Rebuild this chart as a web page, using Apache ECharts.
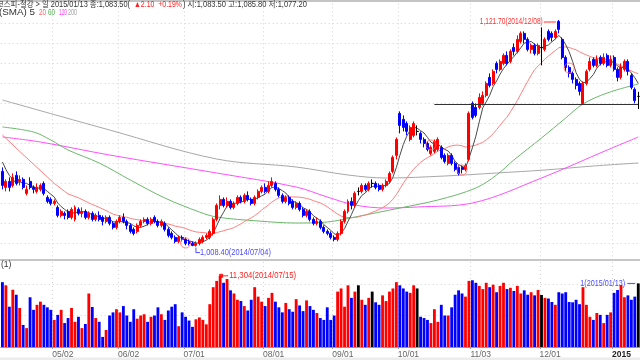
<!DOCTYPE html>
<html><head><meta charset="utf-8">
<script src="https://cdn.jsdelivr.net/npm/echarts@6/dist/echarts.min.js"></script>
<style>html,body{margin:0;padding:0;background:#fff;overflow:hidden}#c{width:640px;height:360px}</style>
</head><body><div id="c"></div>
<script>
// ---- categories (trading days) ----
const monthDays = [
  ['2014/04', [10,11,14,15,16,17,18,21,22,23,24,25,28,29,30]],
  ['2014/05', [2,7,8,9,12,13,14,15,16,19,20,21,22,23,26,27,28,29,30]],
  ['2014/06', [2,3,5,9,10,11,12,13,16,17,18,19,20,23,24,25,26,27,30]],
  ['2014/07', [1,2,3,4,7,8,9,10,11,14,15,16,17,18,21,22,23,24,25,28,29,30,31]],
  ['2014/08', [1,4,5,6,7,8,11,12,13,14,18,19,20,21,22,25,26,27,28,29]],
  ['2014/09', [1,2,3,4,5,11,12,15,16,17,18,19,22,23,24,25,26,29,30]],
  ['2014/10', [1,2,6,7,8,10,13,14,15,16,17,20,21,22,23,24,27,28,29,30,31]],
  ['2014/11', [3,4,5,6,7,10,11,12,13,14,17,18,19,20,21,24,25,26,27,28]],
  ['2014/12', [1,2,3,4,5,8,9,10,11,12,15,16,17,18,19,22,23,24,26,29,30]],
  ['2015/01', [2,5,6,7,8,9,12,13]]
];
const dates = [];
monthDays.forEach(([m, ds]) => ds.forEach(d => dates.push(m + '/' + String(d).padStart(2, '0'))));
const tickDates = ['2014/05/02','2014/06/02','2014/07/01','2014/08/01','2014/09/01','2014/10/01','2014/11/03','2014/12/01','2015/01/02'];
const tickLabels = ['05/02','06/02','07/01','08/01','09/01','10/01','11/03','12/01','2015'];

// ---- daily candles [open, close, low, high] ----
const ohlc = [
[1046,1039,1037,1048],[1038,1041,1036,1042],[1041,1038,1036,1043],[1039,1043,1038,1045],[1044,1040,1039,1046],
[1041,1042,1039,1044],[1042,1038,1037,1043],[1035,1037,1034,1039],[1041,1038,1037,1043],[1038,1037,1035,1039],
[1036,1038,1035,1040],[1037,1039,1036,1040],[1040,1035,1034,1041],[1033,1031,1030,1034],[1032,1030,1029,1033],
[1030,1031,1029,1032],[1028,1024,1023,1029],[1024,1026,1023,1027],[1025,1024,1022,1026],[1026,1023,1022,1027],
[1023,1027,1022,1028],[1022,1028,1021,1029],[1027,1025,1024,1028],[1025,1026,1023,1028],[1026,1023,1022,1027],
[1023,1025,1022,1026],[1025,1022,1021,1026],[1022,1024,1021,1025],[1024,1022,1021,1026],[1023,1021,1019,1024],
[1021,1023,1020,1024],[1023,1020,1019,1024],[1020,1018,1017,1021],[1018,1021,1017,1022],[1021,1023,1020,1024],
[1023,1021,1020,1025],[1021,1019,1017,1022],[1019,1016,1015,1020],[1017,1015,1014,1018],[1016,1019,1015,1020],
[1019,1021,1018,1022],[1021,1022,1020,1023],[1022,1020,1019,1023],[1020,1022,1019,1023],[1023,1021,1020,1024],
[1021,1019,1018,1022],[1019,1021,1018,1022],[1020,1017,1016,1021],[1017,1014,1013,1018],[1015,1013,1012,1016],
[1013,1011,1010,1014],[1011,1013,1010,1014],[1013,1012,1011,1014],[1012,1010,1009,1013],[1011,1010,1009,1012],
[1010,1009,1008.6,1011],[1009,1010,1008.4,1011],[1010,1012,1009,1013],[1011,1013,1010,1014],[1013,1014,1012,1015],
[1013,1016,1012,1017],[1015,1022,1014,1023],[1022,1029,1021,1030],[1029,1032,1027,1034],[1032,1029,1028,1033],
[1029,1031,1028,1033],[1031,1028,1027,1032],[1028,1030,1027,1031],[1030,1033,1029,1034],[1033,1031,1030,1034],
[1031,1034,1030,1035],[1034,1032,1031,1036],[1032,1030,1029,1033],[1030,1033,1029,1034],[1033,1036,1032,1037],
[1036,1038,1035,1039],[1038,1036,1035,1040],[1036,1039,1035,1041],[1039,1041,1038,1043],[1040,1037,1036,1041],
[1037,1034,1033,1038],[1034,1031,1030,1035],[1031,1033,1030,1034],[1033,1030,1029,1034],[1031,1028,1027,1032],
[1028,1030,1027,1031],[1030,1027,1026,1031],[1027,1024,1023,1028],[1024,1026,1023,1027],[1026,1022,1021,1027],
[1022,1020,1019,1023],[1020,1021,1019,1023],[1021,1018,1017,1022],[1018,1016,1015,1019],[1016,1015,1014,1017],
[1015,1013,1012,1016],[1013,1012,1011,1014],[1012,1015,1011,1016],[1015,1021,1014,1022],[1021,1026,1020,1027],
[1026,1031,1025,1032],[1031,1029,1027,1033],[1029,1035,1028,1036],[1036,1036,1034,1038],[1036,1039,1035,1040],
[1039,1037,1036,1040],[1037,1040,1036,1041],[1040,1040,1038,1042],[1040,1038,1037,1041],[1039,1037,1036,1040],
[1037,1039,1036,1040],[1039,1041,1038,1042],[1041,1045,1040,1046],[1046,1053,1045,1054],[1054,1062,1052,1063],
[1075,1069,1065,1076],[1072,1068,1066,1074],[1070,1066,1064,1071],[1062,1068,1061,1069],[1064,1070,1063,1071],
[1066,1066,1064,1069],[1065,1062,1060,1066],[1062,1060,1058,1063],[1060,1057,1056,1061],[1055,1058,1054,1059],
[1056,1061,1055,1062],[1057,1062,1056,1063],[1058,1053,1052,1059],[1054,1051,1050,1055],[1050,1054,1049,1055],
[1054,1050,1049,1055],[1050,1047,1046,1051],[1048,1045,1044,1049],[1048,1047,1045,1049],[1047,1049,1046,1050],
[1052,1075,1051,1076],[1080,1073,1072,1081],[1078,1074,1073,1080],[1078,1083,1077,1085],[1080,1084,1079,1086],
[1084,1090,1083,1091],[1093,1089,1088,1095],[1090,1096,1089,1097],[1100,1097,1095,1101],[1097,1101,1096,1102],
[1100,1104,1099,1105],[1104,1100,1099,1106],[1101,1106,1100,1107],[1108,1106,1104,1110],[1106,1112,1105,1114],
[1111,1115,1110,1116],[1115,1112,1110,1116],[1112,1107,1106,1113],[1107,1109,1105,1110],[1109,1105,1104,1110],
[1105,1109,1104,1110],[1108,1108,1099,1118],[1107,1112,1106,1113],[1116,1112,1111,1117],[1115,1113,1111,1116],
[1113,1116,1112,1117],[1121,1117,1115,1121.7],[1112,1103,1102,1113],[1103,1098,1096,1104],[1098,1095,1093,1099],
[1095,1092,1090,1096],[1092,1089,1087,1093],[1090,1086,1084,1091],[1080,1090,1079.7,1091],[1090,1096,1089,1097],
[1097,1101,1096,1103],[1102,1099,1098,1103],[1099,1102,1098,1104],[1103,1100,1099,1104],[1100,1103,1099,1105],
[1104,1099,1098,1105],[1099,1102,1098,1104],[1103,1097,1096,1104],[1097,1093,1091,1098],[1093,1098,1092,1100],
[1097,1101,1096,1102],[1101,1096,1094,1102],[1094,1088,1087,1095],[1087,1081.4,1080,1088],[1083.5,1083.5,1077.2,1085.8]
];

// ---- daily volume ----
const volume = [
10300,9800,6400,9100,8300,6200,3500,3000,7900,5900,6700,7200,6700,6300,5900,
4300,5100,5900,3800,4600,6200,4000,4800,3000,3650,8500,6350,4600,4000,1600,2700,5000,5500,6000,
5500,6500,5000,4000,6000,4500,5000,5200,4000,4800,5000,6300,5200,4300,5800,6400,6800,3300,5500,
4800,4200,3200,4400,4700,4300,3600,6800,9500,10500,
11304,
10200,10800,9000,8500,7500,7300,6500,5800,7500,9500,8000,7200,
6500,7800,8600,7200,6300,5500,7000,6000,5600,7600,6600,5700,7400,6500,5900,5400,4600,4300,6300,4300,
5000,8800,9300,6400,9800,7800,8800,9800,7500,6700,7800,8800,7100,6700,8200,7300,8800,9300,10300,
9800,9300,8800,8600,9800,9300,4800,4600,4300,3800,6000,4000,6700,5000,5000,6300,8300,9000,8500,8000,10500,
10600,10200,9700,9200,10200,9500,9900,8700,9700,10200,9200,9400,8900,9700,8500,9000,8300,8700,8200,9050,
8260,7800,7700,7150,6700,8700,8500,8700,7150,7100,7500,6800,9500,6700,4800,4300,5400,5100,3800,5100,5500,8600,9050,9850,7900,8200,7500,8000,10100
];

const ma5Head = [1050.7, 1047, 1044, 1042];
const ma20Head = [[0,1064.2],[5,1056],[10,1048],[15,1040],[18,1036]];
const ma60Pts = [[0,1068.2],[9,1065.7],[14,1061.7],[19,1056.7],[28,1050.2],[37,1041.7],[47,1032.7],[57,1025.7],[62,1023.2],[74,1021.2],[85,1020.2],[94,1020.7],[102,1023.2],[115,1027.7],[126,1031.7],[137,1037.7],[143,1044.2],[148,1051.7],[156,1062.7],[163,1072.7],[168,1079.7],[175,1085.2],[184,1089.7]];
const ma120Pts = [[0,1063.2],[11,1060.7],[31,1054.2],[62,1045.2],[85,1038.2],[94,1033.2],[102,1029.2],[111,1027.7],[120,1028.2],[136,1030.2],[156,1042.7],[175,1056.7],[184,1063.2]];
const ma200Pts = [[0,1081.7],[31,1066.7],[62,1052.2],[85,1048.2],[100,1044.2],[111,1042.7],[128,1043.7],[143,1045.2],[157,1046.7],[171,1048.7],[184,1050.2]];

// cross markers and support line
const crossIdx = [53, 124, 133, 164];
const crossVal = [1010.2, 1059.2, 1046.7, 1097.7];
const supportFrom = 125, supportLevel = 1079.7;
const hiIdx = 161, hiVal = 1121.7, loIdx = 56, loVal = 1008.4, vMaxIdx = 63, vLastIdx = 184;

// header texts
const titleMain = '코스피-철강 > 일 2015/01/13 종:1,083.50(';
const titleChg = '▲2.10  +0.19%';
const titleTail = ') 시:1,083.50 고:1,085.80 저:1,077.20';
const maNames = ['(SMA) 5', '20', '60', '120', '200'];

const closes = ohlc.map(r => r[1]);
function sma(n, i) { let s = 0; for (let k = i - n + 1; k <= i; k++) s += closes[k]; return +(s / n).toFixed(2); }
const ma5 = dates.map((d, i) => [i, i < 4 ? ma5Head[i] : sma(5, i)]);
const ma20 = ma20Head.concat(dates.slice(19).map((d, j) => [j + 19, sma(20, j + 19)]));

const RED = '#ff0000', BLUE = '#0000ff';
const tickSet = new Set(tickDates.map(d => dates.indexOf(d)));
const FONT = "'Liberation Sans','Noto Sans CJK KR',sans-serif";
const GRID = '#d2d2d2';

const chart = echarts.init(document.getElementById('c'));
const candleData = ohlc.map(r => r[0] === r[1] ? { value: r, itemStyle: { color: '#000', borderColor: '#000', color0: '#000', borderColor0: '#000' } } : r);
const volData = volume.map((v, i) => ({ value: v, itemStyle: { color: ohlc[i][1] > ohlc[i][0] ? RED : (ohlc[i][1] < ohlc[i][0] ? BLUE : '#000') } }));

const mainGridLines = [];
for (let k = 0; k < 14; k++) mainGridLines.push(k === 0 || k === 13 ? 'rgba(0,0,0,0)' : GRID);

function line(name, data, color, smooth, z) {
  return { name, type: 'line', xAxisIndex: 0, yAxisIndex: 0, data, smooth, symbol: 'none', z,
    lineStyle: { color, width: 1 }, silent: true, connectNulls: true };
}

chart.setOption({
  animation: false,
  backgroundColor: '#fff',
  grid: [
    { left: 0.7, right: -6, top: 3.4, height: 260 },
    { left: 0.7, right: -6, top: 262, bottom: 13 }
  ],
  xAxis: [
    { type: 'category', gridIndex: 0, data: dates, boundaryGap: true,
      axisLine: { show: false }, axisTick: { show: false }, axisLabel: { show: false },
      splitLine: { show: true, interval: (i) => tickSet.has(i), lineStyle: { color: GRID, type: [1, 3] } } },
    { type: 'category', gridIndex: 1, data: dates, boundaryGap: true,
      axisLine: { show: true, lineStyle: { color: '#9a9a9a' } },
      axisTick: { show: true, interval: (i) => tickSet.has(i), length: 2, lineStyle: { color: '#9a9a9a' } },
      axisLabel: { show: true, interval: (i) => tickSet.has(i), align: 'left', margin: 3, fontSize: 8.5, fontFamily: FONT, color: '#666',
        padding: [0, 0, 0, -2],
        formatter: (v) => { const t = tickLabels[tickDates.indexOf(v)] || ''; return t === '2015' ? '{b|2015}' : t; },
        rich: { b: { fontWeight: 'bold', color: '#222', fontSize: 8.5, fontFamily: FONT } } },
      splitLine: { show: true, interval: (i) => tickSet.has(i), lineStyle: { color: GRID, type: [1, 3] } } }
  ],
  yAxis: [
    { type: 'value', gridIndex: 0, min: 1000, max: 1130, interval: 10, position: 'right',
      axisLine: { show: false }, axisTick: { show: false }, axisLabel: { show: false },
      splitLine: { show: true, lineStyle: { color: mainGridLines, type: [1, 3] } } },
    { type: 'value', gridIndex: 1, min: 0, max: 13500, interval: 5000, position: 'right',
      axisLine: { show: false }, axisTick: { show: false }, axisLabel: { show: false },
      splitLine: { show: true, lineStyle: { color: ['rgba(0,0,0,0)', GRID, GRID, 'rgba(0,0,0,0)'], type: [1, 3] } } }
  ],
  series: [
    line('MA200', ma200Pts, '#a8a8a8', 0.35, 2),
    line('MA120', ma120Pts, '#ff50ff', 0.35, 2),
    line('MA60', ma60Pts, '#6cb86c', 0.35, 2),
    line('MA20', ma20, '#ff8080', false, 2),
    line('MA5', ma5, '#4a4a4a', false, 2),
    { name: 'price', type: 'candlestick', xAxisIndex: 0, yAxisIndex: 0, data: candleData, barWidth: '72%', z: 3,
      itemStyle: { color: RED, color0: BLUE, borderColor: RED, borderColor0: BLUE, borderWidth: 1 },
      markLine: { silent: true, symbol: 'none', label: { show: false },
        lineStyle: { color: '#333', width: 1, type: 'solid' },
        data: [[{ coord: [dates[supportFrom], supportLevel] }, { coord: [dates[dates.length - 1], supportLevel] }]] } },
    { name: 'cross', type: 'scatter', xAxisIndex: 0, yAxisIndex: 0, symbol: 'circle', symbolSize: 10, z: 4,
      data: crossIdx.map((k, j) => [dates[k], crossVal[j]]),
      itemStyle: { color: 'rgba(255,255,255,0)', borderColor: '#ff6a6a', borderWidth: 1 } },
    { name: 'volume', type: 'bar', xAxisIndex: 1, yAxisIndex: 1, data: volData, barCategoryGap: '18%' }
  ]
});

// ---- text fitted to a target pixel span ----
const mctx = document.createElement('canvas').getContext('2d');
function fitText(text, font, x0, x1, y, fill) {
  mctx.font = font;
  const w = mctx.measureText(text).width || 1;
  return { type: 'text', x: x0, y, scaleX: (x1 - x0) / w, silent: true,
    style: { text, font, fill, verticalAlign: 'middle', align: 'left' } };
}

// ---- annotations placed through the library's coordinate conversion ----
const ph = chart.convertToPixel({ gridIndex: 0 }, [dates[hiIdx], hiVal]);
const pl = chart.convertToPixel({ gridIndex: 0 }, [dates[loIdx], loVal]);
const pv = chart.convertToPixel({ gridIndex: 1 }, [dates[vMaxIdx], volume[vMaxIdx]]);
const pz = chart.convertToPixel({ gridIndex: 1 }, [dates[vLastIdx], volume[vLastIdx]]);
const annFont = '8.5px ' + FONT;
const LB = '#4b4bff';
const TF = '8.5px ' + FONT;

chart.setOption({
  graphic: [
    { type: 'rect', shape: { x: 0, y: 0, width: 640, height: 2 }, style: { fill: '#c4c4c4' }, silent: true },
    { type: 'rect', shape: { x: 0, y: 259, width: 640, height: 2 }, style: { fill: '#c6c6c6' }, silent: true },
    { type: 'rect', shape: { x: 0, y: 357.5, width: 640, height: 3 }, style: { fill: '#ececec' }, silent: true },
    fitText(titleMain, TF, -3, 130, 5, '#333'),
    fitText(titleChg, TF, 134, 182, 5, '#ff2020'),
    fitText(titleTail, TF, 183, 307, 5, '#333'),
    fitText(maNames[0], TF, -1, 35, 13, '#333'),
    fitText(maNames[1], TF, 39, 46, 13, '#ff6060'),
    fitText(maNames[2], TF, 48, 55, 13, '#50b050'),
    fitText(maNames[3], TF, 59, 67, 13, '#ff40ff'),
    fitText(maNames[4], TF, 68, 77, 13, '#a0a0a0'),
    { type: 'text', x: 1, y: 265, silent: true, style: { text: '(1)', fill: '#333', font: TF, verticalAlign: 'middle' } },
    // high
    fitText('1,121.70(2014/12/08)', annFont, ph[0] - 79, ph[0] - 16, ph[1] + 2, '#ff3030'),
    { type: 'line', silent: true, shape: { x1: ph[0] - 15, y1: ph[1] + 2, x2: ph[0] - 3, y2: ph[1] + 2 }, style: { stroke: '#ff3030', lineWidth: 1 } },
    // low
    { type: 'polyline', silent: true, shape: { points: [[pl[0], pl[1] + 1], [pl[0], pl[1] + 6], [pl[0] + 4, pl[1] + 6]] }, style: { stroke: LB, lineWidth: 1, fill: null } },
    fitText('1,008.40(2014/07/04)', annFont, pl[0] + 4, pl[0] + 75, pl[1] + 6, LB),
    // max volume
    { type: 'rect', silent: true, shape: { x: pv[0] - 1, y: pv[1] - 2, width: 4, height: 4 }, style: { fill: '#ff2020' } },
    { type: 'line', silent: true, shape: { x1: pv[0] + 3, y1: pv[1], x2: pv[0] + 8, y2: pv[1] }, style: { stroke: '#ff2020', lineWidth: 1 } },
    fitText('11,304(2014/07/15)', annFont, pv[0] + 9, pv[0] + 76, pv[1], '#ff2020'),
    // last volume
    fitText('1(2015/01/13)', annFont, pz[0] - 58, pz[0] - 13, pz[1], LB),
    { type: 'line', silent: true, shape: { x1: pz[0] - 11, y1: pz[1], x2: pz[0] - 3, y2: pz[1] }, style: { stroke: LB, lineWidth: 1 } }
  ]
});
</script>
</body></html>
